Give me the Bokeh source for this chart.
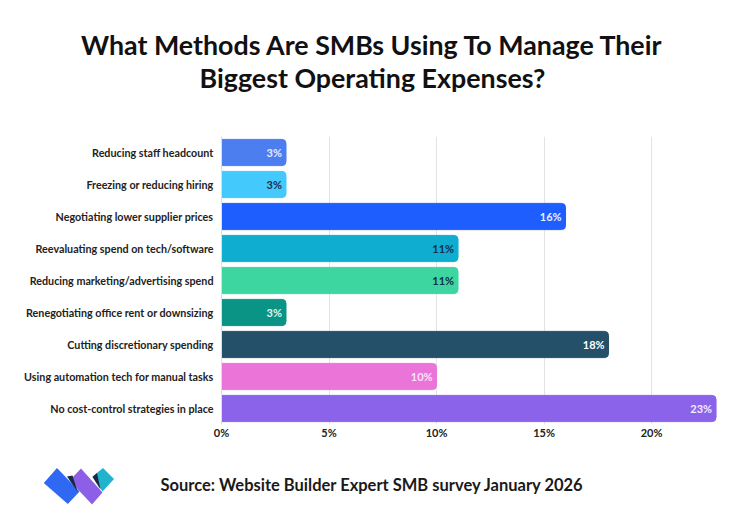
from bokeh.plotting import figure
from bokeh.layouts import column
from bokeh.models import Range1d, FactorRange, FixedTicker, ColumnDataSource
from bokeh.core.properties import value
from bokeh.embed import file_html
from bokeh.resources import INLINE

# ---------------- data ----------------
categories = [
    "Reducing staff headcount",
    "Freezing or reducing hiring",
    "Negotiating lower supplier prices",
    "Reevaluating spend on tech/software",
    "Reducing marketing/advertising spend",
    "Renegotiating office rent or downsizing",
    "Cutting discretionary spending",
    "Using automation tech for manual tasks",
    "No cost-control strategies in place",
]
values = [3, 3, 16, 11, 11, 3, 18, 10, 23]
bar_colors = ["#4D7EEF", "#43C9FB", "#1E5EFF", "#0FADD0", "#3DD6A0",
              "#0A9486", "#25506A", "#EB74D9", "#8B63EA"]
label_colors = ["#E3EAFF", "#1B2F4D", "#E8EEFF", "#12304A", "#12304A",
                "#DDF5F1", "#FFFFFF", "#FBE3F6", "#F1EBFF"]
value_labels = ["3%", "3%", "16%", "11%", "11%", "3%", "18%", "10%", "23%"]
x_ticks = [0, 5, 10, 15, 20]
tick_labels = ["0%", "5%", "10%", "15%", "20%"]

title_lines = ["What Methods Are SMBs Using To Manage Their",
               "Biggest Operating Expenses?"]
source_text = "Source: Website Builder Expert SMB survey January 2026"

FONT = "Lato"
W = 728
TOP_H, MAIN_H, BOT_H = 128, 330, 52


def strip(height):
    f = figure(width=W, height=height, x_range=Range1d(0, W),
               y_range=Range1d(height, 0), toolbar_location=None,
               output_backend="svg", x_axis_location=None, y_axis_location=None,
               min_border=0, min_border_left=0, min_border_right=0,
               min_border_top=0, min_border_bottom=0, frame_align=False)
    f.outline_line_color = None
    f.xgrid.visible = False
    f.ygrid.visible = False
    return f


# ---------------- title strip ----------------
top = strip(TOP_H)
top.text(x=[372, 372], y=[44.5, 77.5], text=title_lines,
         text_font=value(FONT), text_font_style="bold", text_font_size="26.8px",
         text_color="#111111", text_align="center", text_baseline="middle")

# ---------------- main chart ----------------
factors = list(reversed(categories))
src = ColumnDataSource(dict(cat=categories, val=values, color=bar_colors,
                            lab=value_labels, lcol=label_colors))

p = figure(width=W, height=MAIN_H, y_range=FactorRange(*factors),
           x_range=Range1d(0, 23.3), toolbar_location=None, output_backend="svg",
           min_border_left=221, min_border_right=6, min_border_top=8,
           min_border_bottom=34, frame_align=False)
p.outline_line_color = None
p.hbar(y="cat", right="val", left=0, height=0.82, color="color",
       border_radius={"top_right": 4, "bottom_right": 4}, source=src)
p.text(x="val", y="cat", text="lab", text_color="lcol", x_offset=-4,
       text_align="right", text_baseline="middle", text_font=value(FONT),
       text_font_style="bold", text_font_size="11px", source=src)

p.ygrid.visible = False
p.xgrid.grid_line_color = "#E3E3E3"
p.xgrid.ticker = FixedTicker(ticks=x_ticks[1:])

p.xaxis.ticker = FixedTicker(ticks=x_ticks)
p.xaxis.major_label_overrides = {t: l for t, l in zip(x_ticks, tick_labels)}
p.xaxis.axis_line_color = None
p.xaxis.major_label_standoff = 1
p.yaxis.major_label_standoff = 8
for ax in (p.xaxis, p.yaxis):
    ax.major_tick_line_color = None
    ax.minor_tick_line_color = None
    ax.major_tick_out = 0
    ax.major_tick_in = 0
    ax.minor_tick_out = 0
    ax.minor_tick_in = 0
    ax.major_label_text_font = FONT
    ax.major_label_text_font_style = "bold"
    ax.major_label_text_color = "#222222"
p.xaxis.major_label_text_font_size = "11px"
p.yaxis.major_label_text_font_size = "10.75px"

p.yaxis.axis_line_color = "#DDDDDD"
p.y_range.range_padding = 0

# ---------------- footer strip ----------------
bot = strip(BOT_H)
oy = TOP_H + MAIN_H
logo_shapes = [
    ("#2F68F2", [(43.3, 482.5), (56.5, 467.5), (79.0, 491.0), (67.3, 503.5)]),
    ("#8C5FE6", [(69.0, 480.0), (80.5, 468.0), (102.0, 492.0), (91.5, 504.0)]),
    ("#1FB3CC", [(92.0, 476.0), (102.5, 467.5), (113.5, 478.5), (102.0, 491.0)]),
    ("#1D2944", [(66.5, 476.0), (72.0, 475.0), (77.0, 491.0)]),
    ("#1D2944", [(92.0, 476.5), (96.5, 472.5), (100.0, 489.0)]),
]
for col, pts in logo_shapes:
    bot.patch([x for x, _ in pts], [y - oy for _, y in pts],
              fill_color=col, line_color=None)

bot.text(x=[160], y=[484.5 - oy], text=[source_text], text_font=value(FONT),
         text_font_style="bold", text_font_size="16.5px", text_color="#1A1A1A",
         text_align="left", text_baseline="middle")

layout = column(top, p, bot, spacing=0)
open("out.html", "w").write(file_html(layout, INLINE))
